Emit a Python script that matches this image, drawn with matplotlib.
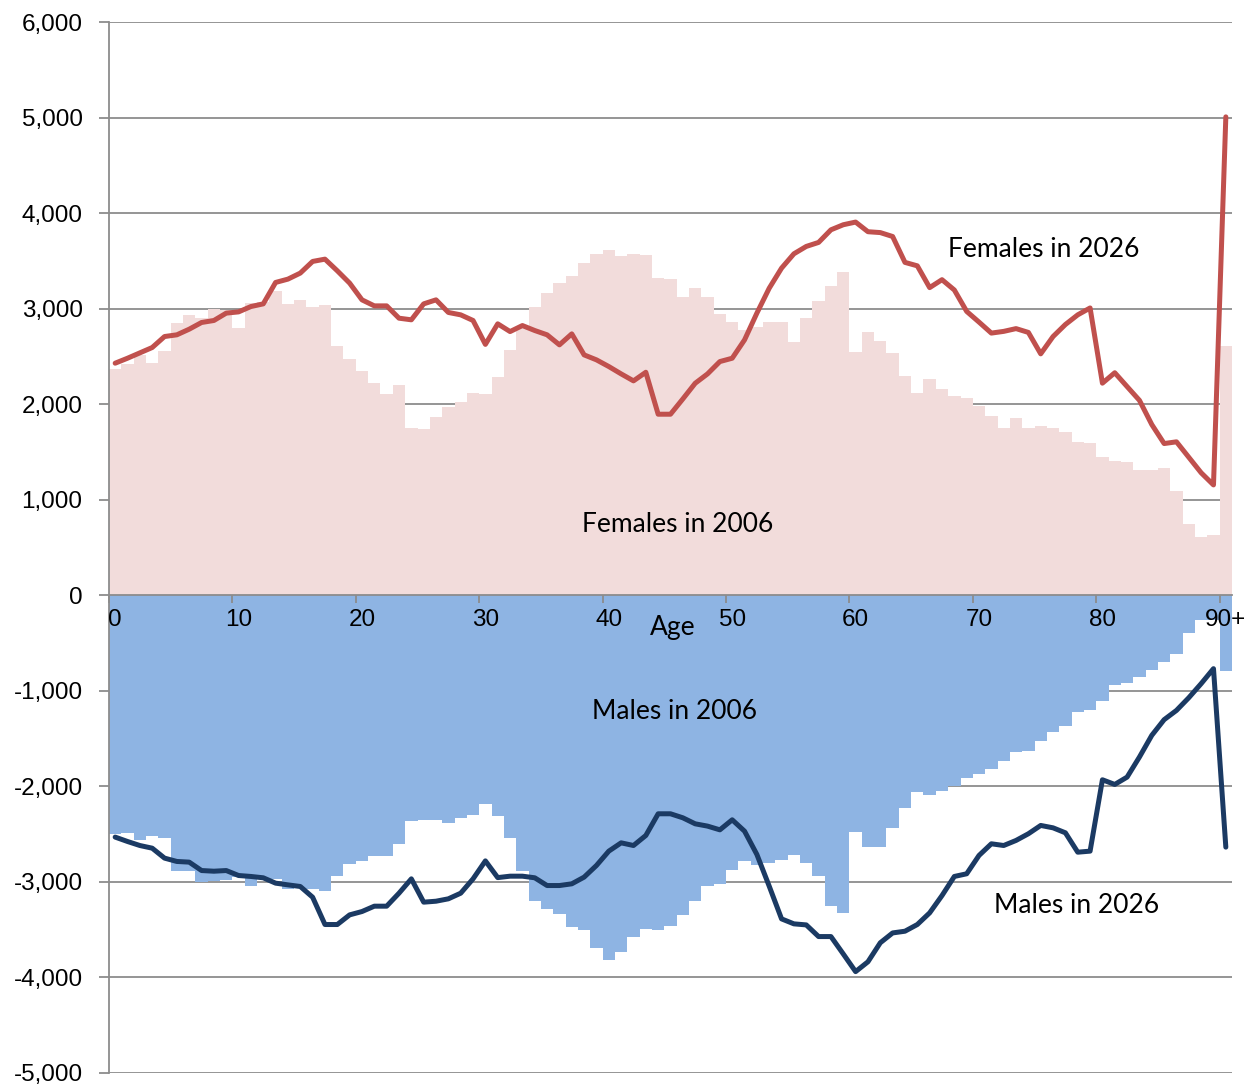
import matplotlib
matplotlib.use('Agg')
import matplotlib.pyplot as plt
import numpy as np
from matplotlib.ticker import FuncFormatter

# ages 0..90 (last one is 90+)
ages = np.arange(91)
age_labels = ['0', '10', '20', '30', '40', '50', '60', '70', '80', '90+']

females_2006 = [2373, 2425, 2512, 2435, 2557, 2850, 2938, 2900, 2993, 2983,
                2798, 3063, 3070, 3182, 3053, 3088, 3014, 3039, 2606, 2474,
                2348, 2219, 2107, 2198, 1755, 1745, 1870, 1971, 2027, 2118,
                2104, 2285, 2564, 2815, 3018, 3164, 3272, 3346, 3478, 3569,
                3618, 3548, 3569, 3558, 3321, 3311, 3119, 3220, 3126, 2948,
                2857, 2773, 2808, 2861, 2864, 2651, 2899, 3077, 3241, 3384,
                2547, 2755, 2661, 2538, 2300, 2112, 2264, 2159, 2083, 2069,
                1986, 1877, 1751, 1859, 1751, 1776, 1751, 1708, 1606, 1596,
                1444, 1408, 1390, 1307, 1310, 1336, 1094, 751, 610, 632,
                2610]

males_2006 = [-2497, -2486, -2566, -2521, -2542, -2881, -2891, -3003, -2992, -2975,
              -2950, -3045, -2961, -2968, -3073, -3062, -3073, -3097, -2943, -2811,
              -2786, -2734, -2734, -2608, -2364, -2350, -2357, -2381, -2329, -2297,
              -2189, -2315, -2542, -2881, -3205, -3282, -3334, -3467, -3499, -3694,
              -3816, -3729, -3579, -3492, -3499, -3457, -3345, -3195, -3038, -3027,
              -2874, -2776, -2828, -2800, -2769, -2723, -2800, -2933, -3254, -3328,
              -2479, -2636, -2636, -2434, -2228, -2060, -2088, -2053, -2001, -1913,
              -1868, -1823, -1739, -1641, -1634, -1526, -1432, -1372, -1222, -1205,
              -1107, -943, -918, -855, -779, -698, -611, -391, -255, -255,
              -793]

females_2026 = [2429, 2481, 2537, 2593, 2708, 2726, 2785, 2855, 2876, 2953,
                2966, 3022, 3050, 3274, 3309, 3372, 3494, 3518, 3396, 3267,
                3092, 3029, 3029, 2900, 2883, 3050, 3092, 2960, 2935, 2876,
                2626, 2841, 2760, 2823, 2771, 2726, 2621, 2736, 2516, 2464,
                2394, 2317, 2244, 2334, 1895, 1895, 2055, 2219, 2317, 2446,
                2481, 2673, 2953, 3214, 3424, 3574, 3651, 3693, 3825, 3878,
                3906, 3805, 3796, 3755, 3484, 3448, 3220, 3303, 3195, 2971,
                2859, 2744, 2762, 2791, 2751, 2527, 2708, 2834, 2935, 3007,
                2220, 2329, 2184, 2040, 1787, 1588, 1606, 1444, 1282, 1155,
                5007]

males_2026 = [-2531, -2577, -2619, -2647, -2751, -2786, -2793, -2881, -2888, -2881,
              -2933, -2943, -2957, -3013, -3031, -3048, -3160, -3446, -3446, -3345,
              -3310, -3254, -3254, -3118, -2968, -3212, -3202, -3177, -3118, -2968,
              -2780, -2955, -2940, -2940, -2957, -3038, -3038, -3020, -2950, -2828,
              -2678, -2591, -2619, -2514, -2287, -2287, -2329, -2392, -2416, -2455,
              -2350, -2469, -2713, -3045, -3387, -3439, -3450, -3572, -3572, -3754,
              -3939, -3836, -3637, -3534, -3516, -3446, -3324, -3143, -2943, -2915,
              -2723, -2601, -2619, -2566, -2496, -2409, -2434, -2486, -2689, -2678,
              -1931, -1980, -1903, -1693, -1466, -1302, -1205, -1072, -925, -768,
              -2636]

fig = plt.figure(figsize=(12.59, 10.84), dpi=100)
ax = fig.add_axes([109/1259, 1 - 1073/1084, (1232 - 109)/1259, (1073 - 22)/1084])

ax.bar(ages, females_2006, width=1.0, color='#F2DCDB', linewidth=0, zorder=2)
ax.bar(ages, males_2006, width=1.0, color='#8EB4E3', linewidth=0, zorder=2)
ax.plot(ages, females_2026, color='#C0504D', lw=3.6, solid_joinstyle='round',
        solid_capstyle='round', zorder=4)
ax.plot(ages, males_2026, color='#1B3A63', lw=3.6, solid_joinstyle='round',
        solid_capstyle='round', zorder=4)

ax.set_xlim(-0.5, 90.5)
ax.set_ylim(-5000, 6000)
ax.set_yticks(np.arange(-5000, 6001, 1000))
ax.yaxis.set_major_formatter(FuncFormatter(lambda v, p: f'{int(v):,}'))
ax.grid(axis='y', color='#8C8C8C', lw=1.3, zorder=1)
ax.set_axisbelow(True)
ax.xaxis.set_zorder(3)   # age labels sit on top of the bars

# category axis sits on y = 0
ax.spines['bottom'].set_position(('data', 0))
ax.spines['bottom'].set_zorder(3)
for s in ['top', 'right']:
    ax.spines[s].set_visible(False)
for s in ['left', 'bottom']:
    ax.spines[s].set_color('#8C8C8C')
    ax.spines[s].set_linewidth(1.3)

ax.set_xticks(np.arange(-0.5, 91, 10))
ax.set_xticklabels([])
ax.set_xticks(np.arange(0, 91, 10), minor=True)
ax.set_xticklabels(age_labels, minor=True)
ax.tick_params(axis='x', which='major', length=6, width=1.3, color='#8C8C8C')
ax.tick_params(axis='x', which='minor', length=0, pad=10,
               labelsize=17.5, labelfontfamily='Liberation Sans')
ax.tick_params(axis='y', length=7, width=1.3, color='#8C8C8C', pad=12,
               labelsize=17.5, labelfontfamily='Liberation Sans')

txt = dict(fontsize=19, family='Lato', ha='center', va='center', zorder=5)
ax.text(75.2, 3620, 'Females in 2026', **txt)
ax.text(45.6, 745, 'Females in 2006', **txt)
ax.text(45.3, -1215, 'Males in 2006', **txt)
ax.text(77.9, -3250, 'Males in 2026', **txt)
ax.text(45.2, -340, 'Age', **txt)

fig.savefig('out.png', dpi=100)
